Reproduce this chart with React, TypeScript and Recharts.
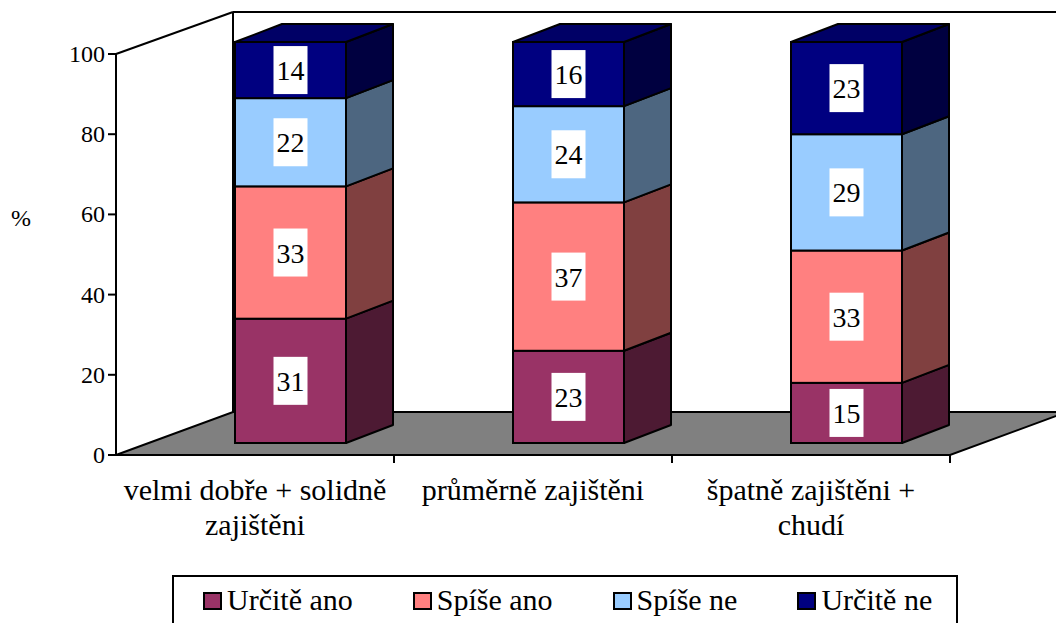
import React from 'react';
import { BarChart, Bar, XAxis, YAxis, Legend, ReferenceArea } from 'recharts';

const categories = ['velmi dobře + solidně zajištěni', 'průměrně zajištěni', 'špatně zajištěni + chudí'];
const categoryLines = [['velmi dobře + solidně', 'zajištěni'], ['průměrně zajištěni'], ['špatně zajištěni +', 'chudí']];
const seriesNames = ['Určitě ano', 'Spíše ano', 'Spíše ne', 'Určitě ne'];
const urciteAno = [31, 23, 15];
const spiseAno = [33, 37, 33];
const spiseNe = [22, 24, 29];
const urciteNe = [14, 16, 23];
const yTicks = [0, 20, 40, 60, 80, 100];

const seriesValues = [urciteAno, spiseAno, spiseNe, urciteNe];
const seriesKeys = ['s0', 's1', 's2', 's3'];
const frontColors = ['#993366', '#FF8080', '#99CCFF', '#000080'];
const sideColors = ['#4D1A33', '#804040', '#4D6680', '#000040'];
const topColors = ['#7A2952', '#CC6666', '#7AA3CC', '#000066'];

const data = categories.map((name, i) => {
  const row: any = { name };
  seriesKeys.forEach((k, s) => { row[k] = seriesValues[s][i]; });
  return row;
});

const FONT = '"Liberation Serif", "Times New Roman", serif';
const FRONT_DX = 35;
const FRONT_DY = -12;
const DEPTH_DX = 47;
const DEPTH_DY = -18;
const FLOOR_DX = 117;
const FLOOR_DY = -43;

function Box3D(props: any) {
  const { x, y, width, height, s, payload } = props;
  if (width == null || height == null) return null;
  const fx = x + FRONT_DX;
  const fy = y + FRONT_DY;
  const x2 = fx + width;
  const y2 = fy + height;
  const value = payload[seriesKeys[s]];
  const cx = fx + width / 2;
  const cy = fy + height / 2;
  return (
    <g>
      <rect x={fx} y={fy} width={width} height={height} fill={frontColors[s]} stroke="#000" strokeWidth={2} />
      <polygon
        points={`${x2},${fy} ${x2 + DEPTH_DX},${fy + DEPTH_DY} ${x2 + DEPTH_DX},${y2 + DEPTH_DY} ${x2},${y2}`}
        fill={sideColors[s]} stroke="#000" strokeWidth={2} strokeLinejoin="round"
      />
      {s === 3 && (
        <polygon
          points={`${fx},${fy} ${fx + DEPTH_DX},${fy + DEPTH_DY} ${x2 + DEPTH_DX},${fy + DEPTH_DY} ${x2},${fy}`}
          fill={topColors[s]} stroke="#000" strokeWidth={2} strokeLinejoin="round"
        />
      )}
      <rect x={cx - 17} y={cy - 24} width={34} height={48} fill="#fff" />
      <text x={cx} y={cy + 10} textAnchor="middle" fontFamily={FONT} fontSize={28} fill="#000">{value}</text>
    </g>
  );
}

function Walls(props: any) {
  const { x, y, width, height } = props;
  const B = y + height;
  const R = x + width;
  return (
    <g>
      <polygon
        points={`${x},${B} ${R},${B} ${R + FLOOR_DX},${B + FLOOR_DY} ${x + FLOOR_DX},${B + FLOOR_DY}`}
        fill="#808080" stroke="#000" strokeWidth={2}
      />
      <line x1={x} y1={y} x2={x + FLOOR_DX} y2={y + FLOOR_DY + 1} stroke="#000" strokeWidth={2} />
      <line x1={x + FLOOR_DX} y1={y + FLOOR_DY + 1} x2={R + FLOOR_DX + 20} y2={y + FLOOR_DY + 1} stroke="#000" strokeWidth={2} />
      <line x1={x + FLOOR_DX} y1={y + FLOOR_DY + 1} x2={x + FLOOR_DX} y2={B + FLOOR_DY} stroke="#000" strokeWidth={2} />
    </g>
  );
}

function XTick(props: any) {
  const { x, y, payload } = props;
  const off = payload && payload.offset ? payload.offset : 139;
  const lines = categoryLines[payload.index] || [payload.value];
  return (
    <g>
      <line x1={x + off} y1={y - 8} x2={x + off} y2={y} stroke="#000" strokeWidth={2} />
      {lines.map((l: string, i: number) => (
        <text key={i} x={x} y={y + 37 + i * 35} textAnchor="middle" fontFamily={FONT} fontSize={30} fill="#000">{l}</text>
      ))}
    </g>
  );
}

function YTick(props: any) {
  const { x, y, payload } = props;
  return (
    <text x={x} y={y + 8} textAnchor="end" fontFamily={FONT} fontSize={24} fill="#000">{payload.value}</text>
  );
}

function LegendContent(props: any) {
  const payload = props.payload || [];
  return (
    <div style={{ border: '2px solid #000', boxSizing: 'border-box', width: 786, height: 70, display: 'flex', alignItems: 'flex-start', paddingLeft: 29, paddingTop: 8, gap: 60, background: '#fff' }}>
      {payload.map((p: any, i: number) => (
        <div key={i} style={{ display: 'flex', alignItems: 'flex-start' }}>
          <span style={{ display: 'inline-block', width: 19, height: 18, boxSizing: 'border-box', border: '2px solid #000', background: frontColors[i], marginTop: 7, marginRight: 5 }} />
          <span style={{ fontFamily: FONT, fontSize: 30, lineHeight: '30px', color: '#000' }}>{seriesNames[i]}</span>
        </div>
      ))}
    </div>
  );
}

export default function App() {
  return (
    <div style={{ position: 'absolute', left: 0, top: 0, width: 1056, height: 623, overflow: 'hidden', background: '#fff' }}>
      <BarChart width={1056} height={623} data={data} margin={{ top: 54, right: 106, bottom: 0, left: 56 }} barSize={111}>
        <ReferenceArea x1={categories[0]} x2={categories[categories.length - 1]} y1={0} y2={100} shape={<Walls />} ifOverflow="visible" />
        <XAxis dataKey="name" height={168} axisLine={{ stroke: '#000', strokeWidth: 2 }} tickLine={false} tickSize={8} tickMargin={0} tick={<XTick />} interval={0} />
        <YAxis
          domain={[0, 100]} ticks={yTicks} width={60} tickSize={8} tickMargin={3}
          axisLine={{ stroke: '#000', strokeWidth: 2 }} tickLine={{ stroke: '#000', strokeWidth: 2 }}
          tick={<YTick />}
          label={() => <text x={21} y={226} textAnchor="middle" fontFamily={FONT} fontSize={24} fill="#000">%</text>}
        />
        {seriesKeys.map((k, s) => (
          <Bar key={k} dataKey={k} name={seriesNames[s]} stackId="a" fill={frontColors[s]} isAnimationActive={false}
            shape={(p: any) => <Box3D {...p} s={s} />} />
        ))}
        <Legend layout="horizontal" verticalAlign="middle" align="center" content={<LegendContent />}
          wrapperStyle={{ left: 172, top: 575, width: 786, height: 70 }} />
      </BarChart>
    </div>
  );
}
